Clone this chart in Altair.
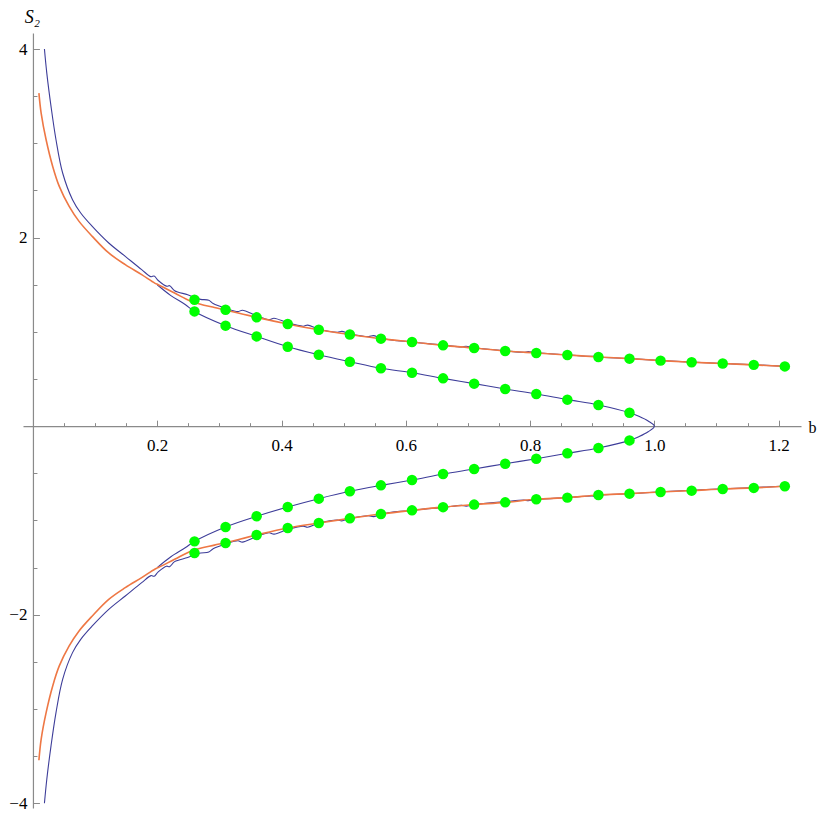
import altair as alt
import pandas as pd

# ---------------- data ----------------
# green markers
DOT_X_OUTER = [0.26, 0.31, 0.36, 0.41, 0.46, 0.51, 0.56, 0.61, 0.66, 0.71,
               0.76, 0.81, 0.86, 0.91, 0.96, 1.01, 1.06, 1.11, 1.16, 1.21]
DOT_Y_OUTER_UP = [1.341, 1.235, 1.154, 1.084, 1.023, 0.973, 0.928, 0.893, 0.857, 0.829,
                  0.797, 0.776, 0.755, 0.734, 0.716, 0.695, 0.678, 0.664, 0.650, 0.634]
DOT_Y_OUTER_LOW = [-1.345, -1.239, -1.154, -1.080, -1.027, -0.978, -0.931, -0.893, -0.859, -0.832,
                   -0.808, -0.776, -0.758, -0.730, -0.716, -0.698, -0.684, -0.666, -0.655, -0.638]
DOT_X_INNER = [0.26, 0.31, 0.36, 0.41, 0.46, 0.51, 0.56, 0.61, 0.66, 0.71,
               0.76, 0.81, 0.86, 0.91, 0.96]
DOT_Y_INNER_UP = [1.217, 1.066, 0.952, 0.843, 0.758, 0.684, 0.614, 0.567, 0.507, 0.451,
                  0.394, 0.341, 0.281, 0.225, 0.143]
DOT_Y_INNER_LOW = [-1.222, -1.069, -0.956, -0.857, -0.769, -0.691, -0.628, -0.571, -0.508, -0.454,
                   -0.398, -0.345, -0.288, -0.231, -0.151]

# orange curve (left part; right part runs through the outer markers)
OR_X_LEFT = [0.0096, 0.0132, 0.0212, 0.0318, 0.0424, 0.0583, 0.0742, 0.0955, 0.122,
             0.1486, 0.175, 0.196, 0.2016, 0.228, 0.255, 0.292, 0.308]
OR_Y_UP_LEFT = [3.533, 3.321, 3.038, 2.755, 2.543, 2.331, 2.172, 2.013, 1.837,
                1.713, 1.607, 1.517, 1.500, 1.412, 1.323, 1.258, 1.235]
OR_Y_LOW_LEFT = [-3.544, -3.321, -3.038, -2.755, -2.543, -2.331, -2.172, -2.013, -1.837,
                 -1.713, -1.607, -1.517, -1.500, -1.412, -1.323, -1.262, -1.239]

# blue outer curve (left part)
BL_X_LEFT = [0.0185, 0.0223, 0.0291, 0.0371, 0.0478, 0.0637, 0.0769, 0.0955, 0.122,
             0.1486, 0.175, 0.19, 0.195, 0.2016, 0.215, 0.22, 0.228, 0.249]
BL_Y_UP_LEFT = [4.0, 3.745, 3.391, 3.038, 2.685, 2.402, 2.261, 2.119, 1.943,
                1.801, 1.660, 1.585, 1.592, 1.545, 1.485, 1.49, 1.437, 1.394]
BL_Y_LOW_LEFT = [-4.0, -3.745, -3.391, -3.038, -2.685, -2.402, -2.261, -2.119, -1.943,
                 -1.801, -1.660, -1.585, -1.592, -1.545, -1.485, -1.49, -1.437, -1.394]
# blue outer curve (noisy right part)
BL_X_JAG = [0.262, 0.27, 0.283, 0.29, 0.31, 0.33, 0.337, 0.36, 0.38, 0.388, 0.41, 0.435,
            0.442, 0.46, 0.49, 0.497, 0.51, 0.54, 0.548, 0.56, 0.6, 0.608, 0.61, 0.66,
            0.69, 0.697, 0.71, 0.76, 0.79, 0.797, 0.81, 0.86, 0.9, 0.907, 0.91, 0.96,
            1.01, 1.06, 1.11, 1.16, 1.21]
BL_Y_JAG_UP = [1.36, 1.345, 1.335, 1.30, 1.25, 1.215, 1.23, 1.17, 1.13, 1.145, 1.095, 1.06,
               1.072, 1.03, 0.995, 1.005, 0.98, 0.95, 0.96, 0.935, 0.9, 0.91, 0.898, 0.862,
               0.84, 0.848, 0.832, 0.80, 0.784, 0.79, 0.778, 0.757, 0.741, 0.747, 0.736, 0.717,
               0.696, 0.679, 0.665, 0.651, 0.636]
BL_Y_JAG_LOW = [-1.36, -1.345, -1.335, -1.30, -1.25, -1.215, -1.23, -1.17, -1.13, -1.145, -1.095, -1.06,
                -1.072, -1.03, -0.995, -1.005, -0.98, -0.95, -0.96, -0.935, -0.9, -0.91, -0.898, -0.862,
                -0.84, -0.848, -0.832, -0.80, -0.784, -0.79, -0.778, -0.757, -0.741, -0.747, -0.736, -0.717,
                -0.696, -0.679, -0.665, -0.651, -0.636]
# blue inner branch: where it leaves the outer curve, and the turning point
BL_IN_START_X = [0.20, 0.222, 0.245]
BL_IN_START_UP = [1.50, 1.385, 1.29]
BL_IN_START_LOW = [-1.50, -1.385, -1.29]
BL_TIP_X = [0.975, 0.99, 1.0, 0.99, 0.975]
BL_TIP_Y = [0.105, 0.055, 0.0, -0.06, -0.112]

X_MAJOR = [0.2, 0.4, 0.6, 0.8, 1.0, 1.2]
X_MINOR = [0.05, 0.1, 0.15, 0.2, 0.25, 0.3, 0.35, 0.4, 0.45, 0.5, 0.55, 0.6,
           0.65, 0.7, 0.75, 0.8, 0.85, 0.9, 0.95, 1.0, 1.05, 1.1, 1.15, 1.2]
Y_MAJOR = [-4, -2, 2, 4]
Y_MINOR = [-4, -3.5, -3, -2.5, -2, -1.5, -1, -0.5, 0.5, 1, 1.5, 2, 2.5, 3, 3.5, 4]

# ---------------- tables ----------------
def path(name, xs, ys):
    return pd.DataFrame({"b": list(xs), "s": list(ys), "part": name, "k": range(len(xs))})

blue = pd.concat([
    path("up", BL_X_LEFT + BL_X_JAG, BL_Y_UP_LEFT + BL_Y_JAG_UP),
    path("low", BL_X_LEFT + BL_X_JAG, BL_Y_LOW_LEFT + BL_Y_JAG_LOW),
    path("inner",
         BL_IN_START_X + DOT_X_INNER + BL_TIP_X + DOT_X_INNER[::-1] + BL_IN_START_X[::-1],
         BL_IN_START_UP + DOT_Y_INNER_UP + BL_TIP_Y + DOT_Y_INNER_LOW[::-1] + BL_IN_START_LOW[::-1]),
])
orange = pd.concat([
    path("up", OR_X_LEFT + DOT_X_OUTER[2:], OR_Y_UP_LEFT + DOT_Y_OUTER_UP[2:]),
    path("low", OR_X_LEFT + DOT_X_OUTER[2:], OR_Y_LOW_LEFT + DOT_Y_OUTER_LOW[2:]),
])
dots = pd.concat([
    pd.DataFrame({"b": DOT_X_OUTER, "s": DOT_Y_OUTER_UP}),
    pd.DataFrame({"b": DOT_X_OUTER, "s": DOT_Y_OUTER_LOW}),
    pd.DataFrame({"b": DOT_X_INNER, "s": DOT_Y_INNER_UP}),
    pd.DataFrame({"b": DOT_X_INNER, "s": DOT_Y_INNER_LOW}),
])

# ---------------- geometry ----------------
W, H = 778, 775
XMIN, XMAX = -0.016, 1.236
YMIN, YMAX = -4.05, 4.17
x0_px = W * (0 - XMIN) / (XMAX - XMIN)     # y axis position from left
y0_px = H * (YMAX - 0) / (YMAX - YMIN)     # x axis position from top

xs = alt.Scale(domain=[XMIN, XMAX], nice=False, zero=False)
ys = alt.Scale(domain=[YMIN, YMAX], nice=False, zero=False)

FONT = "Liberation Serif, Times New Roman, serif"
AX = "#8a8a8a"

x_major = alt.Axis(orient="top", offset=-y0_px, values=X_MAJOR, format=".1f",
                   tickSize=6, tickColor=AX, domainColor=AX, domainWidth=1.2,
                   labelFont=FONT, labelFontSize=17, labelColor="black",
                   labelBaseline="alphabetic", labelPadding=-30.5, labelFlush=False,
                   labelOverlap=False, grid=False,
                   title="b", titleFont=FONT, titleFontSize=16, titleFontWeight="normal",
                   titleColor="black", titleAngle=0, titleAlign="left",
                   titleBaseline="alphabetic", titleX=W + 7, titleY=6.6)
x_minor = alt.Axis(orient="top", offset=-y0_px, values=X_MINOR, labels=False,
                   tickSize=3.5, tickColor=AX, domain=False, grid=False, title="")
y_major = alt.Axis(orient="right", offset=-(W - x0_px), values=Y_MAJOR, format="d",
                   tickSize=6.5, tickColor=AX, domainColor=AX, domainWidth=1.2,
                   labelFont=FONT, labelFontSize=17, labelColor="black",
                   labelAlign="right", labelBaseline="middle", labelPadding=-12.5,
                   labelFlush=False, labelOverlap=False, grid=False,
                   title="S₂", titleFont=FONT, titleFontSize=18, titleFontStyle="italic",
                   titleFontWeight="normal", titleColor="black", titleAngle=0,
                   titleAlign="center", titleBaseline="middle", titleX=-1, titleY=-16)
y_minor = alt.Axis(orient="right", offset=-(W - x0_px), values=Y_MINOR, labels=False,
                   tickSize=4, tickColor=AX, domain=False, grid=False, title="")

blue_layer = alt.Chart(blue).mark_line(color="#3d3d99", strokeWidth=1.1,
                                       interpolate="catmull-rom").encode(
    x=alt.X("b:Q", scale=xs, axis=x_major),
    y=alt.Y("s:Q", scale=ys, axis=y_major),
    detail="part:N",
    order="k:Q",
)
orange_layer = alt.Chart(orange).mark_line(color="#ee7744", strokeWidth=1.6,
                                           interpolate="catmull-rom").encode(
    x=alt.X("b:Q", scale=xs, axis=x_minor),
    y=alt.Y("s:Q", scale=ys, axis=y_minor),
    detail="part:N",
    order="k:Q",
)
dot_layer = alt.Chart(dots).mark_circle(size=110, color="#00ff00", opacity=1).encode(
    x=alt.X("b:Q", scale=xs, axis=None),
    y=alt.Y("s:Q", scale=ys, axis=None),
)

chart = alt.layer(blue_layer, orange_layer, dot_layer).resolve_axis(
    x="independent", y="independent"
).properties(
    width=W, height=H, autosize="none",
    padding={"left": 15, "top": 25, "right": 21, "bottom": 6},
).configure_view(strokeWidth=0)

chart.save("out.html", embed_options={"renderer": "svg", "actions": False})
